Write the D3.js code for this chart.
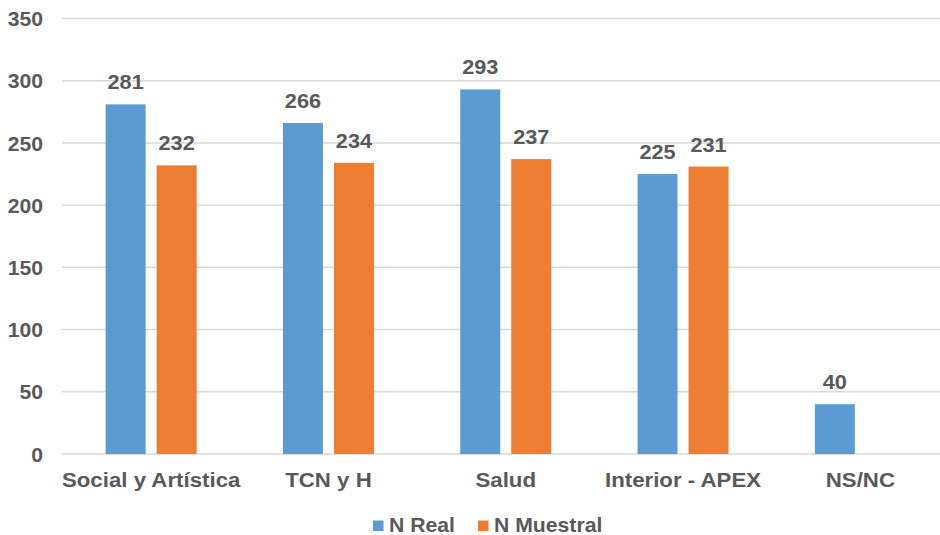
<!DOCTYPE html>
<html>
<head>
<meta charset="utf-8">
<script src="https://cdn.jsdelivr.net/npm/d3@7"></script>
<style>
  html, body { margin: 0; padding: 0; background: #fff; }
  svg { display: block; }
  text { font-family: "Liberation Sans", Arial, sans-serif; font-weight: bold; fill: #595959; }
</style>
</head>
<body>
<svg id="chart" width="940" height="535"></svg>
<script>
// Categories and series
const categories = ["Social y Artística", "TCN y H", "Salud", "Interior - APEX", "NS/NC"];
const seriesNames = ["N Real", "N Muestral"];
const nReal = [281, 266, 293, 225, 40];
const nMuestral = [232, 234, 237, 231, null];
const yTicks = [0, 50, 100, 150, 200, 250, 300, 350];
const colors = ["#5B9BD5", "#ED7D31"];

const svg = d3.select("#chart");
const W = 940, H = 535;
const plotLeft = 62, y0px = 454, yTopPx = 18.5;
const SX = 1.06; // slightly wide lettering

const y = d3.scaleLinear().domain([0, 350]).range([y0px, yTopPx]);

// Category bands (the last group runs past the right edge)
const step = 177.3;
const x0 = d3.scaleBand().domain(categories)
  .range([62.5, 62.5 + step * categories.length])
  .paddingInner(0).paddingOuter(0);
const x1 = d3.scaleBand().domain(seriesNames).range([0, 91]).paddingInner(0.216).paddingOuter(0);

// Gridlines
svg.append("g").selectAll("line").data(yTicks).join("line")
  .attr("x1", plotLeft).attr("x2", W)
  .attr("y1", d => y(d)).attr("y2", d => y(d))
  .attr("stroke", "#d9d9d9").attr("stroke-width", 1.5);

// Y axis labels
const yAxis = d3.axisLeft(y).tickValues(yTicks).tickSize(0).tickPadding(0);
const gy = svg.append("g").attr("transform", "translate(43,0)").call(yAxis);
gy.select(".domain").remove();
gy.selectAll("text")
  .attr("font-family", "Liberation Sans, Arial, sans-serif")
  .attr("font-size", 20).attr("font-weight", "bold").attr("fill", "#595959")
  .attr("x", 0).attr("dy", "0.36em")
  .attr("transform", `scale(${SX},1)`);

// Bars
const rows = categories.map((c, i) => ({ cat: c, vals: [nReal[i], nMuestral[i]] }));
const groups = svg.append("g").selectAll("g").data(rows).join("g")
  .attr("transform", d => `translate(${x0(d.cat) + x0.bandwidth() / 2 - 45.5},0)`);

const cells = d => d.vals.map((v, j) => ({ v, s: seriesNames[j], j })).filter(e => e.v != null);

groups.selectAll("rect").data(cells).join("rect")
  .attr("x", e => x1(e.s))
  .attr("width", x1.bandwidth())
  .attr("y", e => y(e.v))
  .attr("height", e => y0px - y(e.v))
  .attr("fill", e => colors[e.j]);

groups.selectAll("text.val").data(cells).join("text")
  .attr("class", "val")
  .attr("transform", e => `translate(${x1(e.s) + x1.bandwidth() / 2},${y(e.v) - 15}) scale(${SX},1)`)
  .attr("text-anchor", "middle")
  .attr("font-size", 20.5)
  .text(e => e.v);

// Category labels
const xAxis = d3.axisBottom(x0).tickSize(0).tickPadding(0);
const gx = svg.append("g").attr("transform", "translate(0,487)").call(xAxis);
gx.select(".domain").remove();
gx.selectAll("text")
  .attr("font-family", "Liberation Sans, Arial, sans-serif")
  .attr("font-size", 21).attr("font-weight", "bold").attr("fill", "#595959")
  .attr("y", 0).attr("dy", 0)
  .attr("transform", `scale(${SX},1)`);

// Legend
const legend = svg.append("g").attr("transform", "translate(373,532)");
const legendX = [0, 105];
seriesNames.forEach((name, j) => {
  const g = legend.append("g").attr("transform", `translate(${legendX[j]},0)`);
  g.append("rect").attr("x", 0).attr("y", -11.5).attr("width", 10.5).attr("height", 10.5).attr("fill", colors[j]);
  g.append("text").attr("transform", `translate(16,0) scale(${SX},1)`).attr("font-size", 20).text(name);
});
</script>
</body>
</html>
